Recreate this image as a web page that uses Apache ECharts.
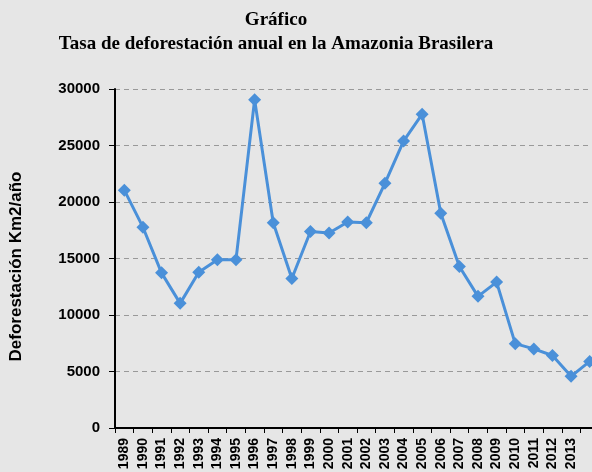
<!DOCTYPE html>
<html>
<head>
<meta charset="utf-8">
<script src="https://cdn.jsdelivr.net/npm/echarts@6/dist/echarts.min.js"></script>
<style>
  html, body { margin: 0; padding: 0; background: #e6e6e6; }
  #chart { width: 592px; height: 472px; }
</style>
</head>
<body>
<div id="chart"></div>
<script>
// años (el último queda cortado en la imagen)
const years = ['1989', '1990', '1991', '1992', '1993', '1994', '1995', '1996', '1997', '1998',
  '1999', '2000', '2001', '2002', '2003', '2004', '2005', '2006', '2007', '2008',
  '2009', '2010', '2011', '2012', '2013', '2014'];
// deforestación Km2/año
const deforestacion = [21050, 17770, 13730, 11030, 13786, 14896, 14896, 29059, 18161, 13227,
  17383, 17259, 18226, 18165, 21651, 25396, 27772, 19014, 14286, 11651,
  12911, 7464, 7000, 6418, 4571, 5891];
const yTicks = [0, 5000, 10000, 15000, 20000, 25000, 30000];

const chart = echarts.init(document.getElementById('chart'));

const option = {
  backgroundColor: '#e6e6e6',
  animation: false,
  title: {
    text: 'Gráfico\nTasa de deforestación anual en la Amazonia Brasilera',
    left: 271,
    top: 3,
    textAlign: 'center',
    textStyle: {
      fontFamily: 'Liberation Serif',
      fontWeight: 'bold',
      fontSize: 19,
      lineHeight: 24,
      color: '#000'
    }
  },
  grid: {
    left: 115,
    right: -7,
    top: 89,
    bottom: 44,
    outerBoundsMode: 'none'
  },
  xAxis: {
    type: 'category',
    data: years,
    boundaryGap: true,
    axisLine: { lineStyle: { color: '#000', width: 2 } },
    axisTick: { show: true, length: 5, lineStyle: { color: '#000', width: 1 } },
    axisLabel: {
      rotate: 90,
      interval: 0,
      margin: 10,
      fontFamily: 'Liberation Sans',
      fontWeight: 'bold',
      fontSize: 14,
      color: '#000',
      formatter: function (v, i) { return i === years.length - 1 ? '' : v; }
    },
    splitLine: { show: false }
  },
  yAxis: {
    type: 'value',
    min: yTicks[0],
    max: yTicks[yTicks.length - 1],
    interval: 5000,
    name: 'Deforestación Km2/año',
    nameLocation: 'middle',
    nameRotate: 90,
    nameGap: 90,
    nameTextStyle: {
      fontFamily: 'Liberation Sans',
      fontWeight: 'bold',
      fontSize: 17,
      color: '#000',
      padding: [0, 16, 0, 0]
    },
    axisLine: { show: true, lineStyle: { color: '#000', width: 2 } },
    axisTick: { show: true, length: 6, lineStyle: { color: '#000', width: 1 } },
    axisLabel: {
      margin: 15,
      fontFamily: 'Liberation Sans',
      fontWeight: 'bold',
      fontSize: 15,
      color: '#000',
      formatter: function (v) { return String(v); }
    },
    splitLine: {
      show: true,
      lineStyle: { color: '#999', type: [5, 4], width: 1 }
    }
  },
  series: [{
    type: 'line',
    data: deforestacion,
    symbol: 'diamond',
    symbolSize: 13,
    lineStyle: { color: '#4a90d9', width: 3 },
    itemStyle: { color: '#4a90d9' }
  }]
};

chart.setOption(option);
</script>
</body>
</html>
